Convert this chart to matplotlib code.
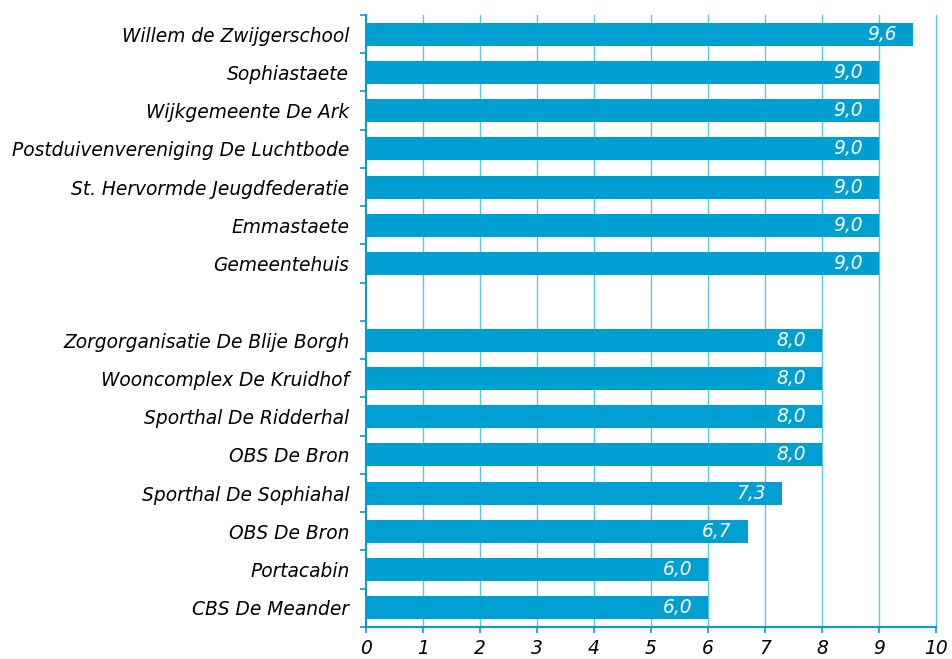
import numpy as np
import matplotlib.pyplot as plt

labels = ["Willem de Zwijgerschool", "Sophiastaete", "Wijkgemeente De Ark",
          "Postduivenvereniging De Luchtbode", "St. Hervormde Jeugdfederatie",
          "Emmastaete", "Gemeentehuis", "",
          "Zorgorganisatie De Blije Borgh", "Wooncomplex De Kruidhof",
          "Sporthal De Ridderhal", "OBS De Bron", "Sporthal De Sophiahal",
          "OBS De Bron", "Portacabin", "CBS De Meander"]
values = [9.6, 9.0, 9.0, 9.0, 9.0, 9.0, 9.0, None,
          8.0, 8.0, 8.0, 8.0, 7.3, 6.7, 6.0, 6.0]
x_ticks = list(range(0, 11))

bar_color = "#009FD1"
axis_color = "#0A9BCB"
grid_color = "#5AC4E8"
fs = 13.4

fig = plt.figure(figsize=(9.52, 6.59), dpi=100)
ax = fig.add_axes([0.3845, 0.0486, 0.5987, 0.9287])

n = len(labels)
ypos = np.arange(n)
for y, v in zip(ypos, values):
    if v is None:
        continue
    ax.barh(y, v, height=0.6, color=bar_color, zorder=3)
    ax.annotate(f"{v:.1f}".replace(".", ","), xy=(v, y), xytext=(-16, 0),
                textcoords="offset pixels", ha="right", va="center",
                color="white", fontsize=fs, fontstyle="italic", zorder=4)

ax.set_xlim(0, 10)
ax.set_ylim(n - 0.5, -0.5)
ax.set_xticks(x_ticks)
ax.set_xticklabels([str(t) for t in x_ticks], fontsize=fs, fontstyle="italic")

ax.set_yticks(ypos)
ax.set_yticklabels(labels, fontsize=fs, fontstyle="italic")
ax.tick_params(axis="y", which="major", length=0, pad=12)
ax.set_yticks(np.arange(n + 1) - 0.5, minor=True)
ax.tick_params(axis="y", which="minor", length=4, color=axis_color, width=1.2)
ax.tick_params(axis="x", length=4, color=axis_color, width=1.2, pad=5)

for x in x_ticks[1:]:
    ax.axvline(x, color=grid_color, linewidth=1, zorder=1, clip_on=False)

for side in ["top", "right"]:
    ax.spines[side].set_visible(False)
for side in ["left", "bottom"]:
    ax.spines[side].set_color(axis_color)
    ax.spines[side].set_linewidth(1.5)

fig.savefig("out.png", dpi=100)
